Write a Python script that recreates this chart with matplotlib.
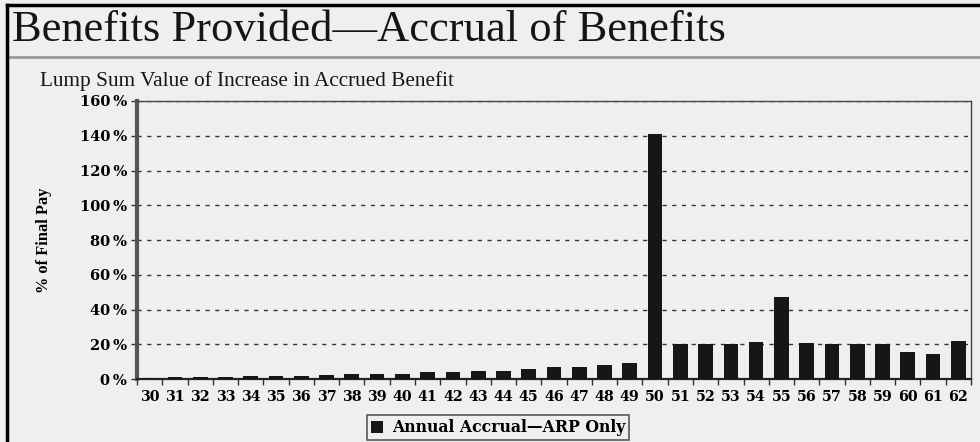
import numpy as np
from matplotlib import pyplot as plt
from matplotlib.lines import Line2D

plt.rcParams["font.family"] = ["Liberation Serif", "DejaVu Serif"]

# attained age and lump sum value of one year's accrual (% of final pay)
ages = list(range(30, 63))
accrual = [0.3, 1.0, 1.0, 1.2, 2.0, 2.0, 2.0, 2.2, 2.8, 3.0, 3.1,
           3.9, 4.0, 4.8, 4.9, 5.8, 6.7, 6.8, 7.9, 9.2,
           141.0, 20.0, 20.3, 20.3, 21.2, 47.0, 20.5, 20.3, 20.3, 20.3,
           15.5, 14.5, 22.0]
y_ticks = [0, 20, 40, 60, 80, 100, 120, 140, 160]

bg = "#efefef"
wide_bold = {"family": "DejaVu Serif", "weight": "bold"}

fig = plt.figure(figsize=(9.8, 4.42), dpi=100, facecolor=bg)

# page heading
fig.text(0.012, 0.908, "Benefits Provided\u2014Accrual of Benefits",
         fontsize=32, color="#151515", ha="left", va="baseline")
fig.add_artist(Line2D([0.009, 1.0], [0.872, 0.872], color="#9a9a9a", lw=2))
fig.text(0.041, 0.805, "Lump Sum Value of Increase in Accrued Benefit",
         fontsize=15.3, color="#151515", ha="left", va="baseline")

# frame lines along the left and top edge
fig.add_artist(Line2D([0.0072, 0.0072], [0, 0.988], color="black", lw=2.5))
fig.add_artist(Line2D([0.0072, 1.0], [0.988, 0.988], color="black", lw=2.5))

ax = fig.add_axes([0.1398, 0.1425, 0.851, 0.629], facecolor=bg)
x = np.arange(len(ages))
ax.bar(x, accrual, width=0.58, color="#161616", zorder=3,
       label="Annual Accrual\u2014ARP Only")

ax.set_xlim(-0.5, len(ages) - 0.5)
ax.set_ylim(0, 160)
ax.set_yticks(y_ticks)
ax.set_yticklabels([f"{v}\u2009%" for v in y_ticks], fontsize=10.5, **wide_bold)
ax.set_xticks(x)
ax.set_xticklabels([str(a) for a in ages], fontsize=10.3, **wide_bold)
ax.set_xticks(np.arange(len(ages) + 1) - 0.5, minor=True)
ax.tick_params(axis="x", which="major", length=0, pad=8)
ax.tick_params(axis="x", which="minor", length=4, width=1, color="#333333")
ax.tick_params(axis="y", length=4, width=1, color="#333333", pad=3)

ax.yaxis.grid(True, linestyle=(0, (3, 4)), color="#333333", lw=1)
ax.set_axisbelow(True)

ax.spines["left"].set_linewidth(3)
ax.spines["left"].set_color("#555555")
ax.spines["bottom"].set_linewidth(1.6)
ax.spines["bottom"].set_color("#222222")
for s in ("top", "right"):
    ax.spines[s].set_linewidth(1)
    ax.spines[s].set_color("#444444")

ax.set_ylabel("% of Final Pay", fontsize=11.8, fontweight="bold", labelpad=20)

leg = ax.legend(loc="upper center", bbox_to_anchor=(0.433, -0.103),
                frameon=True, fancybox=False, handlelength=0.75, handleheight=0.75,
                handletextpad=0.6, borderpad=0.25,
                prop={"family": "DejaVu Serif", "weight": "bold", "size": 11.3})
leg.get_frame().set_edgecolor("#333333")
leg.get_frame().set_linewidth(1.2)
leg.get_frame().set_facecolor(bg)

plt.savefig("out.png", dpi=100, facecolor=bg)
